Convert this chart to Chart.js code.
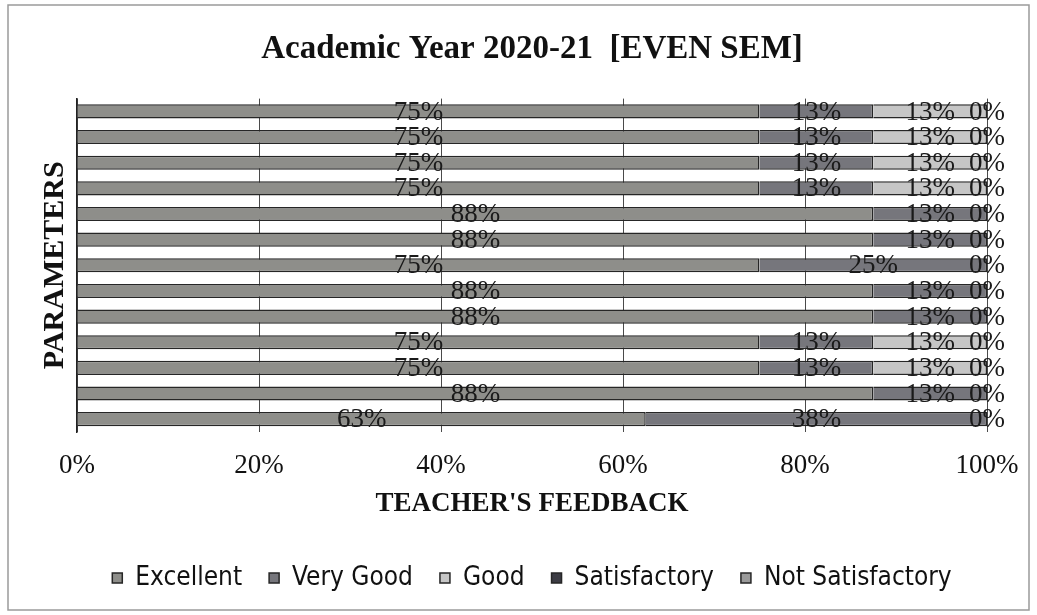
<!DOCTYPE html>
<html>
<head>
    <title>Academic Year 2020-21 [EVEN SEM]</title>
    <script src="https://cdn.jsdelivr.net/npm/chart.js"></script>
    <style>
        html, body { margin: 0; padding: 0; background: #fff; }
        #wrap { width: 1037px; height: 615px; }
    </style>
</head>
<body>
    <div id="wrap">
        <canvas id="myChart" width="1037" height="615"></canvas>
    </div>

    <script>
        // parameters, top to bottom
        const parameters = ['P1', 'P2', 'P3', 'P4', 'P5', 'P6', 'P7', 'P8', 'P9', 'P10', 'P11', 'P12', 'P13'];

        // share of responses (%) per rating
        const excellent       = [75, 75, 75, 75, 87.5, 87.5, 75, 87.5, 87.5, 75, 75, 87.5, 62.5];
        const veryGood        = [12.5, 12.5, 12.5, 12.5, 12.5, 12.5, 25, 12.5, 12.5, 12.5, 12.5, 12.5, 37.5];
        const good            = [12.5, 12.5, 12.5, 12.5, null, null, null, null, null, 12.5, 12.5, null, null];
        const satisfactory    = [0, 0, 0, 0, 0, 0, 0, 0, 0, 0, 0, 0, 0];
        const notSatisfactory = [null, null, null, null, null, null, null, null, null, null, null, null, null];

        const xTicks = [0, 20, 40, 60, 80, 100];

        const serif = "'Liberation Serif', 'Times New Roman', serif";

        // white page with a thin frame
        const framePlugin = {
            id: 'frame',
            beforeDraw(chart) {
                const c = chart.ctx;
                c.save();
                c.fillStyle = '#ffffff';
                c.fillRect(0, 0, chart.width, chart.height);
                c.strokeStyle = '#9a9a9a';
                c.lineWidth = 1.5;
                c.strokeRect(8, 5, chart.width - 16, chart.height - 10);
                c.restore();
            }
        };

        // percentage labels centred on each segment
        const labelPlugin = {
            id: 'segLabels',
            afterDatasetsDraw(chart) {
                const c = chart.ctx;
                c.save();
                c.font = '27px ' + serif;
                c.fillStyle = '#1a1a1a';
                c.textAlign = 'center';
                c.textBaseline = 'middle';
                chart.data.datasets.forEach((ds, i) => {
                    const meta = chart.getDatasetMeta(i);
                    meta.data.forEach((bar, j) => {
                        const v = ds.data[j];
                        if (v === null || v === undefined) return;
                        const cx = (bar.x + bar.base) / 2;
                        c.fillText(Math.round(v) + '%', cx, bar.y + 1);
                    });
                });
                c.restore();
            }
        };

        const ctx = document.getElementById('myChart').getContext('2d');
        window.myChart = new Chart(ctx, {
            type: 'bar',
            data: {
                labels: parameters,
                datasets: [
                    { label: 'Excellent', data: excellent, backgroundColor: '#8e8e8a' },
                    { label: 'Very Good', data: veryGood, backgroundColor: '#76767c' },
                    { label: 'Good', data: good, backgroundColor: '#c6c6c6' },
                    { label: 'Satisfactory', data: satisfactory, backgroundColor: '#3c3c44' },
                    { label: 'Not Satisfactory', data: notSatisfactory, backgroundColor: '#9a9a9a' }
                ].map(d => Object.assign(d, {
                    borderColor: '#262626',
                    borderWidth: 1.5,
                    barPercentage: 0.55,
                    categoryPercentage: 1
                }))
            },
            options: {
                indexAxis: 'y',
                responsive: false,
                animation: false,
                layout: { padding: { left: 10, right: 50, top: 8, bottom: 14 } },
                plugins: {
                    title: {
                        display: true,
                        fullSize: false,
                        text: 'Academic Year 2020-21  [EVEN SEM]',
                        color: '#111',
                        font: { family: serif, size: 33, weight: 'bold' },
                        padding: { top: 22, bottom: 29 }
                    },
                    legend: {
                        position: 'bottom',
                        fullSize: false,
                        labels: {
                            color: '#111',
                            font: { family: "'Liberation Sans Narrow', 'Arial Narrow', 'DejaVu Sans Condensed', sans-serif", size: 26 },
                            boxWidth: 10,
                            boxHeight: 10,
                            padding: 27
                        }
                    },
                    tooltip: { enabled: false }
                },
                scales: {
                    x: {
                        stacked: true,
                        min: 0,
                        max: 100,
                        afterBuildTicks(scale) {
                            scale.ticks = xTicks.map(v => ({ value: v }));
                        },
                        ticks: {
                            color: '#111',
                            font: { family: serif, size: 27 },
                            padding: 18,
                            callback: v => v + '%'
                        },
                        grid: { color: '#4a4a4a', lineWidth: 1, drawTicks: false },
                        border: { display: false },
                        title: {
                            display: true,
                            text: "TEACHER'S FEEDBACK",
                            color: '#111',
                            font: { family: serif, size: 27, weight: 'bold' },
                            padding: { top: 5, bottom: 18 }
                        },
                        afterFit(scale) { scale.height = 106; }
                    },
                    y: {
                        stacked: true,
                        ticks: { display: false },
                        grid: { display: false },
                        border: { display: true, color: '#222', width: 1.5 },
                        title: {
                            display: true,
                            text: 'PARAMETERS',
                            color: '#111',
                            font: { family: serif, size: 30, weight: 'bold' },
                            padding: { top: 27, bottom: 0 }
                        },
                        afterFit(scale) { scale.width = 67; }
                    }
                }
            },
            plugins: [framePlugin, labelPlugin]
        });
    </script>
</body>
</html>
